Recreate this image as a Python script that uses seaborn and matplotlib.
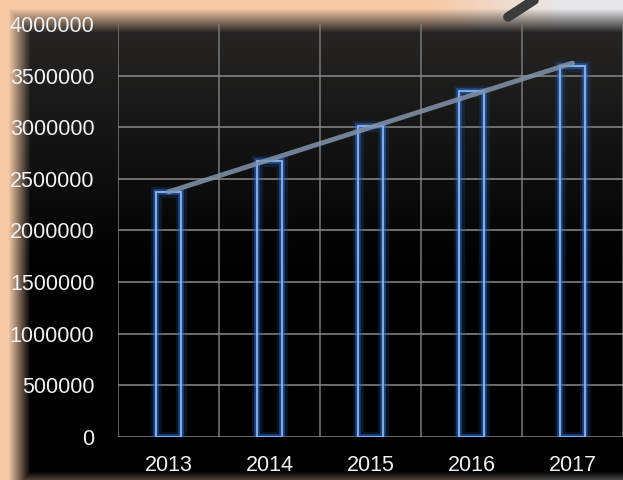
import numpy as np
import pandas as pd
import matplotlib
matplotlib.use('Agg')
import matplotlib.pyplot as plt
import matplotlib.patheffects as pe
from matplotlib.lines import Line2D
import seaborn as sns

years = ['2013', '2014', '2015', '2016', '2017']
values = [2370000, 2670000, 3010000, 3350000, 3590000]
y_ticks = [0, 500000, 1000000, 1500000, 2000000, 2500000, 3000000, 3500000, 4000000]

df = pd.DataFrame({'year': years, 'value': values})

sns.set_style('dark')
plt.rcParams['font.family'] = ['Liberation Sans', 'DejaVu Sans']

W, H = 623, 480
fig = plt.figure(figsize=(W / 100, H / 100), dpi=100)

# background: peach frame fading into a dark panel (gray at top, black lower down)
yy, xx = np.mgrid[0:H, 0:W].astype(float)
shade = 40 * (1 - np.clip((yy - 20) / 250, 0, 1))
inner = np.stack([shade, shade * 0.97, shade * 0.95], axis=-1)
peach = np.array([246, 202, 166])
light = np.array([232, 232, 234])
t = np.clip((xx - 430) / 130, 0, 1)[..., None]
edge = peach * (1 - t) + light * t
a_left = np.clip(1 - (xx - 8) / 22, 0, 1)
a_top = np.clip(1 - (yy - 8) / 24, 0, 1)
a_bot = 0.3 * np.clip(1 - (H - 1 - yy) / 8, 0, 1)
alpha = np.maximum(np.maximum(a_left, a_top), a_bot)[..., None]
bg = (edge * alpha + inner * (1 - alpha)).clip(0, 255).astype(np.uint8)
fig.figimage(bg, xo=0, yo=0, origin='upper', zorder=-10)

ax = fig.add_axes([118 / W, 1 - 437 / H, 505 / W, 413 / H])
ax.set_facecolor('none')
ax.set_zorder(5)

sns.barplot(data=df, x='year', y='value', width=0.24, fill=False,
            color='#8fb5ee', linewidth=1.3, ax=ax, zorder=3)
for bar in ax.patches:
    bar.set_path_effects([pe.Stroke(linewidth=8, foreground='#1a4a96', alpha=0.25),
                          pe.Stroke(linewidth=4, foreground='#3573d6', alpha=0.5),
                          pe.Normal()])

# linear trend line across the bars
sns.regplot(x=np.arange(len(years)), y=np.array(values), ci=None, scatter=False,
            line_kws=dict(color='#8294ad', lw=3.5, alpha=0.85, zorder=4), ax=ax)

ax.set_xlim(-0.5, len(years) - 0.5)
ax.set_ylim(0, 4000000)
ax.set_yticks(y_ticks)
ax.set_yticklabels([str(v) for v in y_ticks])
ax.set_xticks(range(len(years)))
ax.set_xticklabels(years)
ax.set_xticks(np.arange(-0.5, len(years)), minor=True)

ax.grid(False)
ax.grid(axis='y', which='major', color='#8a8a8a', lw=1.1, zorder=1)
ax.grid(axis='x', which='minor', color='#7a7a7a', lw=1.1, zorder=1)
ax.yaxis.get_gridlines()[-1].set_visible(False)
ax.set_axisbelow(True)

ax.tick_params(axis='both', which='both', length=0, colors='#f2f2f2', labelsize=15.5)
ax.tick_params(axis='y', pad=17)
ax.tick_params(axis='x', pad=13)
ax.set_xlabel('')
ax.set_ylabel('')
for s in ax.spines.values():
    s.set_visible(False)

# dark stroke in the top right corner
fig.add_artist(Line2D([508 / W, 534 / W], [1 - 17 / H, 1 - 0 / H],
                      transform=fig.transFigure, lw=7, color='#3c3c3c',
                      solid_capstyle='round'))

fig.savefig('out.png', dpi=100)
